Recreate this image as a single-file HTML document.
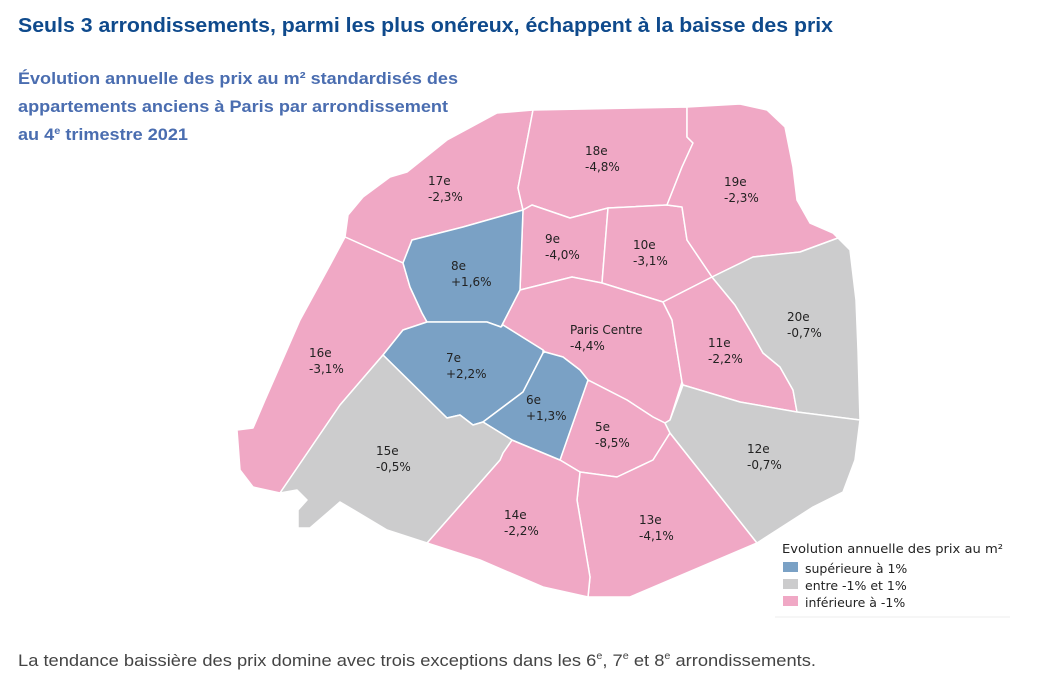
<!DOCTYPE html>
<html><head><meta charset="utf-8"><style>
html,body{margin:0;padding:0;background:#fff}
svg{display:block}
.t{font-family:"DejaVu Sans","Liberation Sans",sans-serif;font-size:12px;fill:#222}
</style></head><body>
<svg width="1046" height="695" viewBox="0 0 1046 695" xmlns="http://www.w3.org/2000/svg">
<text x="18" y="32" font-family="Liberation Sans, sans-serif" font-weight="bold" font-size="20" fill="#0f4a8c" textLength="815" lengthAdjust="spacingAndGlyphs">Seuls 3 arrondissements, parmi les plus onéreux, échappent à la baisse des prix</text>
<g font-family="Liberation Sans, sans-serif" font-weight="bold" font-size="16.5" fill="#4a6db0">
<text x="18" y="84" textLength="440" lengthAdjust="spacingAndGlyphs">Évolution annuelle des prix au m² standardisés des</text>
<text x="18" y="112" textLength="430" lengthAdjust="spacingAndGlyphs">appartements anciens à Paris par arrondissement</text>
<text x="18" y="140" textLength="170" lengthAdjust="spacingAndGlyphs">au 4<tspan font-size="10" dy="-6">e</tspan><tspan dy="6"> trimestre 2021</tspan></text>
</g>
<g stroke="#fff" stroke-width="1.5" stroke-linejoin="round">
<!-- pink -->
<g fill="#f0a8c5">
<polygon points="497,113 533,110 518,188 523,210 463,227 412,240 403,263 345,237 348,215 363,197 390,177 407,172 447,140"/>
<polygon points="533,110 687,107 687,137 693,143 682,167 667,205 608,208 570,218 532,205 523,210 518,188"/>
<polygon points="523,210 532,205 570,218 608,208 602,283 572,277 520,290"/>
<polygon points="608,208 667,205 682,207 687,240 712,277 663,302 602,283"/>
<polygon points="687,107 740,104 767,110 785,127 793,167 797,200 810,223 833,233 838,238 800,252 753,257 712,277 687,240 682,207 667,205 682,167 693,143 687,137"/>
<polygon points="520,290 572,277 602,283 663,302 672,320 682,382 670,420 665,423 653,417 627,400 588,380 580,370 563,357 545,352 543,350 503,325 501,327"/>
<polygon points="663,302 712,277 735,305 750,330 763,353 780,367 793,390 797,412 740,402 683,385 682,382 672,320"/>
<polygon points="588,380 627,400 653,417 665,423 670,433 653,460 617,477 580,472 560,460"/>
<polygon points="670,433 757,543 630,597 588,597 590,577 577,500 580,472 617,477 653,460"/>
<polygon points="512,440 560,460 580,472 577,500 590,577 588,597 543,587 480,560 427,543 500,460 503,453"/>
<polygon points="345,237 403,263 410,287 422,313 427,322 403,330 383,355 340,405 280,493 253,487 240,470 237,430 253,428 265,400 300,320 330,265"/>
</g>
<g fill="#7aa1c5">
<polygon points="403,263 412,240 463,227 523,210 520,290 501,327 487,322 427,322 422,313 410,287"/>
<polygon points="427,322 487,322 501,327 503,325 543,350 543,353 523,392 483,422 473,425 460,415 447,418 383,355 403,330"/>
<polygon points="545,352 563,357 580,370 588,380 560,460 512,440 483,422 523,392 543,353"/>
</g>
<g fill="#cccccd">
<polygon points="838,238 850,250 856,300 858,350 860,420 797,412 793,390 780,367 763,353 750,330 735,305 712,277 753,257 800,252"/>
<polygon points="683,385 740,402 797,412 860,420 855,460 843,492 813,507 757,543 670,433 665,423 670,420"/>
<polygon points="383,355 447,418 460,415 473,425 483,422 512,440 503,453 500,460 427,543 387,530 357,512 340,502 310,528 298,528 298,510 307,500 297,490 280,493 340,405"/>
</g>
</g>
<g class="t">
<text x="428" y="185">17e</text><text x="428" y="201">-2,3%</text>
<text x="585" y="155">18e</text><text x="585" y="171">-4,8%</text>
<text x="724" y="186">19e</text><text x="724" y="202">-2,3%</text>
<text x="545" y="243">9e</text><text x="545" y="259">-4,0%</text>
<text x="633" y="249">10e</text><text x="633" y="265">-3,1%</text>
<text x="451" y="270">8e</text><text x="451" y="286">+1,6%</text>
<text x="787" y="321">20e</text><text x="787" y="337">-0,7%</text>
<text x="570" y="334">Paris Centre</text><text x="570" y="350">-4,4%</text>
<text x="708" y="347">11e</text><text x="708" y="363">-2,2%</text>
<text x="309" y="357">16e</text><text x="309" y="373">-3,1%</text>
<text x="446" y="362">7e</text><text x="446" y="378">+2,2%</text>
<text x="526" y="404">6e</text><text x="526" y="420">+1,3%</text>
<text x="595" y="431">5e</text><text x="595" y="447">-8,5%</text>
<text x="747" y="453">12e</text><text x="747" y="469">-0,7%</text>
<text x="376" y="455">15e</text><text x="376" y="471">-0,5%</text>
<text x="504" y="519">14e</text><text x="504" y="535">-2,2%</text>
<text x="639" y="524">13e</text><text x="639" y="540">-4,1%</text>
</g>
<g font-family="DejaVu Sans, Liberation Sans, sans-serif" font-size="12.5" fill="#222">
<text x="782" y="553" textLength="221" lengthAdjust="spacingAndGlyphs">Evolution annuelle des prix au m²</text>
<rect x="783" y="562" width="15" height="10" fill="#7aa1c5"/>
<text x="805" y="573">supérieure à 1%</text>
<rect x="783" y="579" width="15" height="10" fill="#cccccd"/>
<text x="805" y="590">entre -1% et 1%</text>
<rect x="783" y="596" width="15" height="10" fill="#f0a8c5"/>
<text x="805" y="607">inférieure à -1%</text>
</g>
<line x1="775" y1="617" x2="1010" y2="617" stroke="#eee" stroke-width="1"/>
<text x="18" y="666" font-family="Liberation Sans, sans-serif" font-size="17" fill="#444" textLength="798" lengthAdjust="spacingAndGlyphs">La tendance baissière des prix domine avec trois exceptions dans les 6<tspan font-size="10" dy="-7">e</tspan><tspan dy="7">, 7</tspan><tspan font-size="10" dy="-7">e</tspan><tspan dy="7"> et 8</tspan><tspan font-size="10" dy="-7">e</tspan><tspan dy="7"> arrondissements.</tspan></text>
</svg>
</body></html>
